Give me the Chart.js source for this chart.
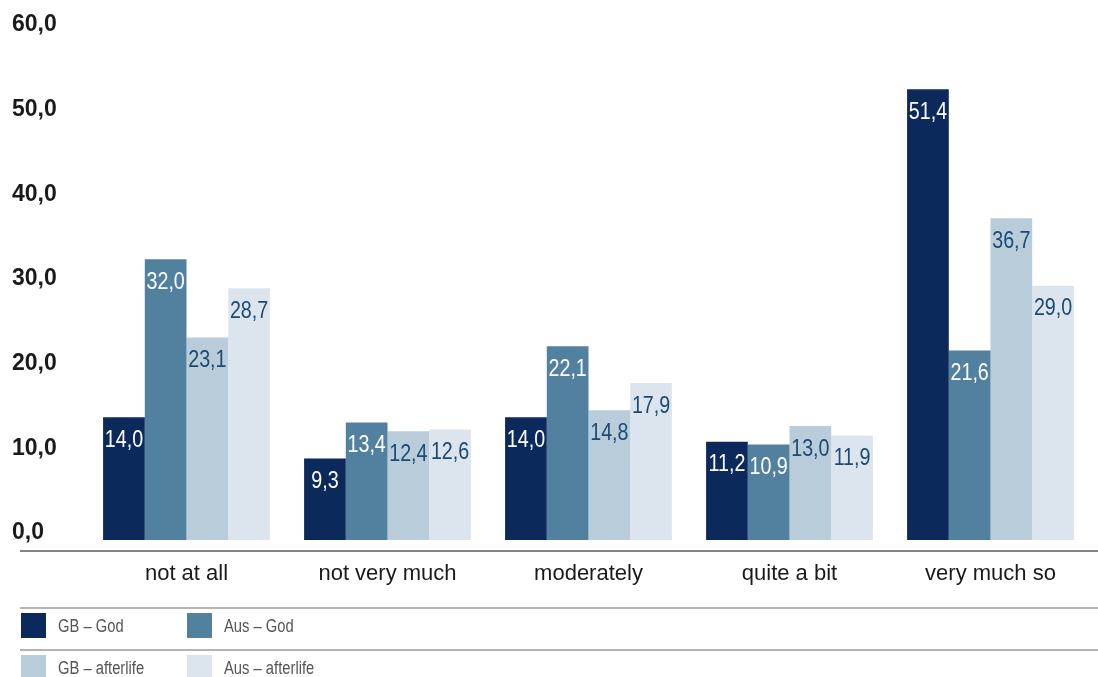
<!DOCTYPE html>
<html>
<head>
<meta charset="utf-8">
<script src="https://cdn.jsdelivr.net/npm/chart.js@4"></script>
<style>
  html, body { margin: 0; padding: 0; background: #fff; }
  #wrap { width: 1098px; height: 677px; }
</style>
</head>
<body>
<div id="wrap"><canvas id="myChart" width="1098" height="677"></canvas></div>
<script>
var categories = ["not at all", "not very much", "moderately", "quite a bit", "very much so"];
var series_names = ["GB \u2013 God", "Aus \u2013 God", "GB \u2013 afterlife", "Aus \u2013 afterlife"];
var gb_god = [14.0, 9.3, 14.0, 11.2, 51.4];
var aus_god = [32.0, 13.4, 22.1, 10.9, 21.6];
var gb_afterlife = [23.1, 12.4, 14.8, 13.0, 36.7];
var aus_afterlife = [28.7, 12.6, 17.9, 11.9, 29.0];
var y_ticks = [0, 10, 20, 30, 40, 50, 60];

var bar_colors = ["#0b2a5b", "#52809f", "#b9ccda", "#dce5ee"];
var label_colors = ["#ffffff", "#ffffff", "#1b4a73", "#1b4a73"];
var sans = "'Liberation Sans', Arial, sans-serif";
var squeeze = 0.82; // the original uses a condensed face

function fmt(v){
    return v.toFixed(1).replace(".", ",");
}

// draw text squeezed horizontally around x
function narrowText(ctx, txt, x, y){
    ctx.save();
    ctx.translate(x, y);
    ctx.scale(squeeze, 1);
    ctx.fillText(txt, 0, 0);
    ctx.restore();
}

var all_series = [gb_god, aus_god, gb_afterlife, aus_afterlife];
var dts = [];
for(var i = 0; i < all_series.length; i++){
    dts.push({
        label: series_names[i],
        data: all_series[i],
        backgroundColor: bar_colors[i],
        borderWidth: 0,
        categoryPercentage: 0.83,
        barPercentage: 1.0
    });
}

// value labels inside the top of each bar
var barLabels = {
    id: "barLabels",
    afterDatasetsDraw: function(chart){
        var ctx = chart.ctx;
        ctx.save();
        ctx.font = "24px " + sans;
        ctx.textAlign = "center";
        ctx.textBaseline = "middle";
        chart.data.datasets.forEach(function(ds, di){
            var meta = chart.getDatasetMeta(di);
            meta.data.forEach(function(bar, j){
                ctx.fillStyle = label_colors[di];
                narrowText(ctx, fmt(ds.data[j]), bar.x, bar.y + 23);
            });
        });
        ctx.restore();
    }
};

// axis rule and the boxed legend underneath
var bottomLegend = {
    id: "bottomLegend",
    afterDraw: function(chart){
        var ctx = chart.ctx;
        var w = chart.width;
        ctx.save();
        ctx.strokeStyle = "#858585";
        ctx.lineWidth = 2;
        ctx.beginPath();
        ctx.moveTo(20, 551); ctx.lineTo(w, 551);
        ctx.stroke();

        ctx.strokeStyle = "#b4b4b4";
        ctx.beginPath();
        ctx.moveTo(20, 608); ctx.lineTo(w, 608);
        ctx.moveTo(20, 650); ctx.lineTo(w, 650);
        ctx.stroke();

        var cols = [21, 187];
        var rows = [613, 655];
        ctx.font = "18px " + sans;
        ctx.textBaseline = "middle";
        ctx.textAlign = "left";
        for(var k = 0; k < series_names.length; k++){
            var x = cols[k % 2];
            var y = rows[Math.floor(k / 2)];
            ctx.fillStyle = bar_colors[k];
            ctx.fillRect(x, y, 25, 25);
            ctx.fillStyle = "#555555";
            narrowText(ctx, series_names[k], x + 37, y + 14);
        }
        ctx.restore();
    }
};

var canvas = document.getElementById("myChart").getContext("2d");
var chart = new Chart(canvas, {
    type: "bar",
    data: { labels: categories, datasets: dts },
    options: {
        responsive: false,
        animation: false,
        layout: { padding: { left: 12, right: 7, top: 12, bottom: 82 } },
        plugins: {
            legend: { display: false },
            tooltip: { enabled: false }
        },
        scales: {
            x: {
                grid: { display: false, drawTicks: false },
                border: { display: false },
                ticks: {
                    color: "#1a1a1a",
                    font: { family: sans, size: 22 },
                    padding: 21,
                    maxRotation: 0
                },
                afterFit: function(axis){ axis.height = 55; }
            },
            y: {
                min: 0,
                max: 60,
                display: false
            },
            // the printed tick labels sit on a slightly tighter spacing than the bars
            yLabels: {
                position: "left",
                min: -0.82,
                max: 61.3,
                grid: { display: false, drawTicks: false },
                border: { display: false },
                afterBuildTicks: function(axis){
                    axis.ticks = y_ticks.map(function(v){ return { value: v }; });
                },
                ticks: {
                    color: "#1a1a1a",
                    font: { family: sans, size: 23, weight: "bold" },
                    crossAlign: "far",
                    padding: 0,
                    callback: function(v){ return fmt(v); }
                },
                afterFit: function(axis){ axis.width = 74; }
            }
        }
    },
    plugins: [barLabels, bottomLegend]
});
</script>
</body>
</html>
